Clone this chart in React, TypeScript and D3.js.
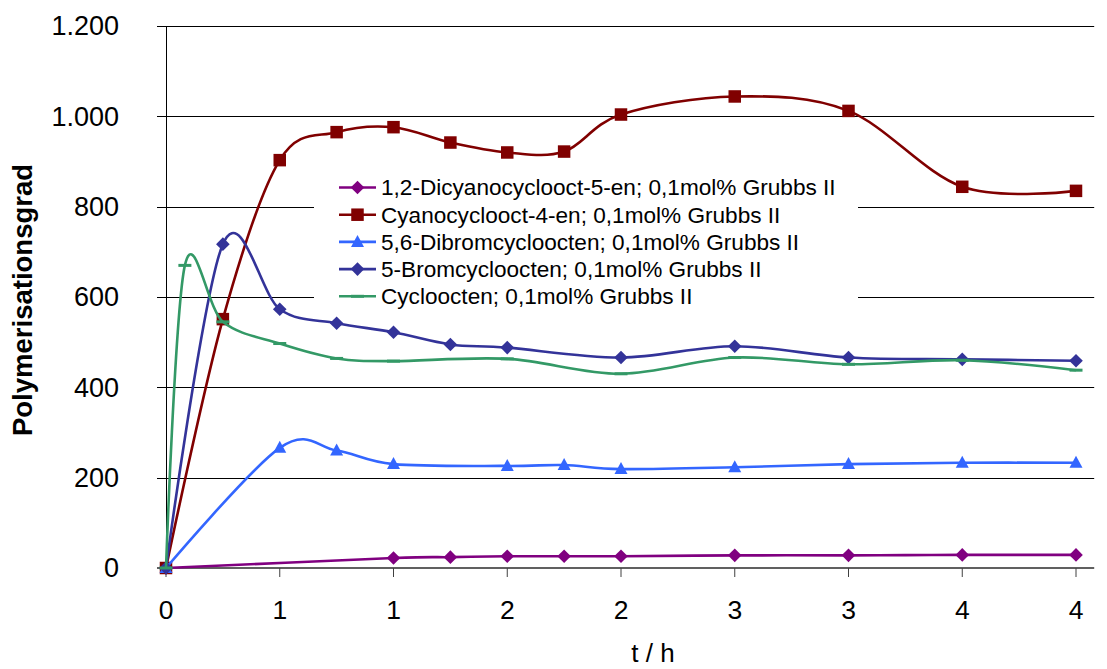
import React from "react";
import * as d3 from "d3";

// ---------- data ----------
const dicyanoT = [0, 1, 1.25, 1.5, 1.75, 2, 2.5, 3, 3.5, 4];
const dicyanoY = [0, 22, 24, 26, 26, 26, 28, 28, 29, 29];

const cyanoT = [0, 0.25, 0.5, 0.75, 1, 1.25, 1.5, 1.75, 2, 2.5, 3, 3.5, 4];
const cyanoY = [0, 551, 903, 965, 976, 942, 920, 922, 1004, 1044, 1012, 844, 835];

const dibromT = [0, 0.5, 0.75, 1, 1.5, 1.75, 2, 2.5, 3, 3.5, 4];
const dibromY = [0, 266, 260, 230, 226, 228, 219, 223, 230, 233, 233];

const bromT = [0, 0.25, 0.5, 0.75, 1, 1.25, 1.5, 2, 2.5, 3, 3.5, 4];
const bromY = [0, 717, 573, 542, 522, 495, 488, 466, 491, 466, 462, 459];

const cycloT = [0, 0.083, 0.25, 0.5, 0.75, 1, 1.5, 2, 2.5, 3, 3.5, 4];
const cycloY = [0, 670, 545, 497, 464, 458, 463, 430, 466, 451, 460, 438];

const seriesNames = [
  "1,2-Dicyanocyclooct-5-en; 0,1mol% Grubbs II",
  "Cyanocyclooct-4-en; 0,1mol% Grubbs II",
  "5,6-Dibromcycloocten; 0,1mol% Grubbs II",
  "5-Bromcycloocten; 0,1mol% Grubbs II",
  "Cycloocten; 0,1mol% Grubbs II",
];
const seriesColors = ["#800080", "#800000", "#3366FF", "#333399", "#339966"];
const seriesMarkers = ["diamond", "square", "triangle", "diamond", "dash"];

const xTickValues = [0, 0.5, 1, 1.5, 2, 2.5, 3, 3.5, 4];
const xTickLabels = ["0", "1", "1", "2", "2", "3", "3", "4", "4"];
const yTickValues = [0, 200, 400, 600, 800, 1000, 1200];
const yTickLabels = ["0", "200", "400", "600", "800", "1.000", "1.200"];

const xTitle = "t / h";
const yTitle = "Polymerisationsgrad";

// ---------- layout ----------
const W = 1107;
const H = 669;
const left = 166;
const pxPerHour = 227.5;
const xMax = 4.08;
const top = 26;
const bottom = 568;

const FONT = "Liberation Sans, Arial, sans-serif";

function Marker({ type, x, y, color }: { type: string; x: number; y: number; color: string }) {
  if (type === "diamond") {
    const r = 6.8;
    return <path d={`M${x},${y - r}L${x + r},${y}L${x},${y + r}L${x - r},${y}Z`} fill={color} />;
  }
  if (type === "square") {
    const s = 12.5;
    return <rect x={x - s / 2} y={y - s / 2} width={s} height={s} fill={color} />;
  }
  if (type === "triangle") {
    const w = 13, h = 12;
    return <path d={`M${x},${y - h / 2 - 1}L${x + w / 2},${y + h / 2 - 1}L${x - w / 2},${y + h / 2 - 1}Z`} fill={color} />;
  }
  // dash
  return <rect x={x - 6.5} y={y - 1.5} width={13} height={3} fill={color} />;
}

export default function App() {
  const x = d3.scaleLinear().domain([0, xMax]).range([left, left + xMax * pxPerHour]);
  const y = d3.scaleLinear().domain([0, 1200]).range([bottom, top]);
  const right = x(xMax);

  const allT = [dicyanoT, cyanoT, dibromT, bromT, cycloT];
  const allY = [dicyanoY, cyanoY, dibromY, bromY, cycloY];

  const line = d3
    .line<[number, number]>()
    .x((d) => x(d[0]))
    .y((d) => y(d[1]))
    .curve(d3.curveCatmullRom.alpha(0));

  const legend = { x0: 314, x1: 858, y0: 172, y1: 310, rowY0: 187.5, rowStep: 27.2 };

  return (
    <svg
      width={W}
      height={H}
      style={{ position: "absolute", left: 0, top: 0, background: "#fff" }}
      fontFamily={FONT}
    >
      <rect x={0} y={0} width={W} height={H} fill="#fff" />
      {/* gridlines */}
      {yTickValues
        .filter((v) => v > 0)
        .map((v) => (
          <line key={"g" + v} x1={left} x2={right} y1={Math.round(y(v)) + 0.5} y2={Math.round(y(v)) + 0.5} stroke="#000" strokeWidth={1} />
        ))}
      {/* y axis */}
      <line x1={left + 0.5} x2={left + 0.5} y1={y(1200)} y2={bottom} stroke="#000" strokeWidth={1} />
      {yTickValues.map((v, i) => (
        <g key={"yt" + v}>
          <line x1={left - 9} x2={left} y1={Math.round(y(v)) + 0.5} y2={Math.round(y(v)) + 0.5} stroke="#000" />
          <text x={119} y={y(v)} dy="0.35em" textAnchor="end" fontSize={27} fill="#000">
            {yTickLabels[i]}
          </text>
        </g>
      ))}
      {/* x axis */}
      <line x1={left - 9} x2={right} y1={bottom} y2={bottom} stroke="#606060" strokeWidth={2} />
      {xTickValues.map((v, i) => (
        <g key={"xt" + v}>
          <line x1={x(v)} x2={x(v)} y1={bottom} y2={bottom + 9} stroke="#404040" strokeWidth={1} />
          <text x={x(v)} y={619} textAnchor="middle" fontSize={26.5} fill="#000">
            {xTickLabels[i]}
          </text>
        </g>
      ))}
      <text x={653} y={662} textAnchor="middle" fontSize={26} fill="#000">
        {xTitle}
      </text>
      <text
        transform={`translate(32,300) rotate(-90)`}
        textAnchor="middle"
        fontSize={27.5}
        fontWeight="bold"
        fill="#000"
      >
        {yTitle}
      </text>

      {/* series */}
      {allT.map((ts, si) => {
        const pts: [number, number][] = ts.map((t, i) => [t, allY[si][i]]);
        return (
          <g key={"s" + si}>
            <path d={line(pts) || ""} fill="none" stroke={seriesColors[si]} strokeWidth={2.6} strokeLinejoin="round" />
            {pts.map((p, i) => (
              <Marker key={i} type={seriesMarkers[si]} x={x(p[0])} y={y(p[1])} color={seriesColors[si]} />
            ))}
          </g>
        );
      })}

      {/* legend */}
      <rect x={legend.x0} y={legend.y0} width={legend.x1 - legend.x0} height={legend.y1 - legend.y0} fill="#fff" />
      {seriesNames.map((name, i) => {
        const ry = legend.rowY0 + i * legend.rowStep;
        return (
          <g key={"l" + i}>
            <line x1={339} x2={376} y1={ry} y2={ry} stroke={seriesColors[i]} strokeWidth={2.6} />
            <Marker type={seriesMarkers[i]} x={357.5} y={ry} color={seriesColors[i]} />
            <text x={381} y={ry} dy="0.35em" fontSize={22.6} fill="#000">
              {name}
            </text>
          </g>
        );
      })}
    </svg>
  );
}
